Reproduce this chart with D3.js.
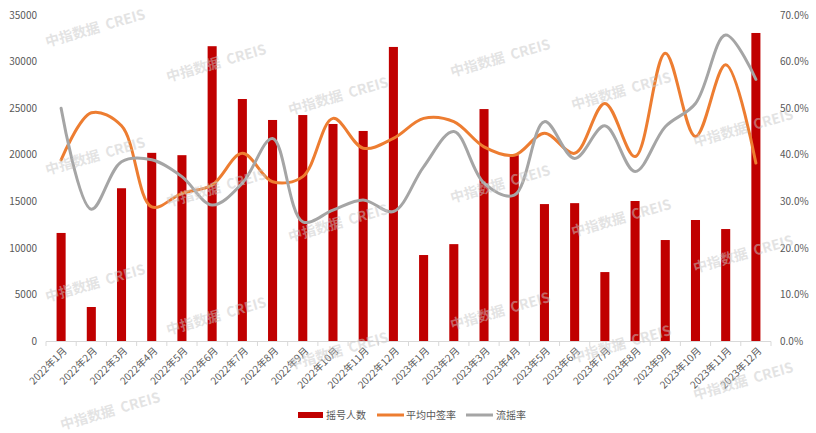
<!DOCTYPE html>
<html><head><meta charset="utf-8">
<script src="https://cdn.jsdelivr.net/npm/d3@7"></script>
<style>body{margin:0;background:#fff;} svg{display:block;}</style>
</head><body>
<svg id="chart" width="816" height="433"></svg>
<script>
const categories = ["2022年1月","2022年2月","2022年3月","2022年4月","2022年5月","2022年6月","2022年7月","2022年8月","2022年9月","2022年10月","2022年11月","2022年12月",
"2023年1月","2023年2月","2023年3月","2023年4月","2023年5月","2023年6月","2023年7月","2023年8月","2023年9月","2023年10月","2023年11月","2023年12月"];
const applicants = [11600,3650,16400,20200,19950,31650,25980,23730,24260,23300,22550,31570,
9230,10400,24900,19950,14700,14800,7400,15030,10840,12990,12020,33070];
const winRate = [0.389,0.490,0.462,0.288,0.317,0.335,0.403,0.342,0.353,0.478,0.414,0.435,
0.478,0.471,0.417,0.399,0.446,0.403,0.510,0.396,0.618,0.439,0.593,0.382];
const flowRate = [0.500,0.283,0.385,0.389,0.353,0.292,0.339,0.435,0.256,0.281,0.303,0.278,
0.374,0.450,0.339,0.313,0.471,0.392,0.462,0.364,0.460,0.510,0.657,0.562];
const leftTicks = [0,5000,10000,15000,20000,25000,30000,35000];
const rightTicks = [0,0.1,0.2,0.3,0.4,0.5,0.6,0.7];
const legendLabels = ["摇号人数","平均中签率","流摇率"];
const watermark = "中指数据  CREIS";

const svg = d3.select("#chart");
const colors = {bar:"#C00000", win:"#ED7D31", flow:"#A5A5A5"};
const x = d3.scaleBand().domain(categories).range([46,771]).paddingInner(0.7).paddingOuter(0.35);
const step = x.step();
const yL = d3.scaleLinear().domain([0,35000]).range([341,15]);
const yR = d3.scaleLinear().domain([0,0.7]).range([341,15]);
const font = "'Noto Sans CJK SC','Open Sans',sans-serif";

// left axis labels
const leftAxis = d3.axisLeft(yL).tickValues(leftTicks).tickSize(0).tickPadding(0).tickFormat(d3.format("d"));
const gl = svg.append("g").attr("transform","translate(37,0)").call(leftAxis);
gl.select(".domain").remove();
gl.selectAll("text").attr("font-family",font).attr("font-size",10).attr("fill","#595959");

const rightAxis = d3.axisRight(yR).tickValues(rightTicks).tickSize(0).tickPadding(0).tickFormat(d3.format(".1%"));
const gr = svg.append("g").attr("transform","translate(780,0)").call(rightAxis);
gr.select(".domain").remove();
gr.selectAll("text").attr("font-family",font).attr("font-size",10).attr("fill","#595959");

// x axis
const xr = x.range();
svg.append("line").attr("x1",xr[0]).attr("x2",xr[1]).attr("y1",341.5).attr("y2",341.5).attr("stroke","#d9d9d9");
const bounds = d3.range(categories.length+1).map(i => xr[0] + i*step);
svg.append("g").selectAll("line").data(bounds).join("line")
  .attr("x1",d=>d).attr("x2",d=>d).attr("y1",341.5).attr("y2",346).attr("stroke","#d9d9d9");
svg.append("g").selectAll("text").data(categories).join("text")
  .attr("transform",d=>`translate(${x(d)+x.bandwidth()/2+4},${349}) rotate(-45)`)
  .attr("text-anchor","end").attr("dy","0.35em")
  .attr("font-family",font).attr("font-size",10).attr("fill","#595959").text(d=>d);

// bars
svg.append("g").selectAll("rect").data(applicants).join("rect")
  .attr("x",(d,i)=>x(categories[i])).attr("width",x.bandwidth())
  .attr("y",d=>yL(d)).attr("height",d=>yL(0)-yL(d)).attr("fill",colors.bar);

// lines
const cx = i => x(categories[i]) + x.bandwidth()/2;
const line = d3.line().x((d,i)=>cx(i)).y(d=>yR(d)).curve(d3.curveCatmullRom.alpha(0.5));
svg.append("path").datum(winRate).attr("d",line).attr("fill","none").attr("stroke",colors.win).attr("stroke-width",3).attr("stroke-linecap","round");
svg.append("path").datum(flowRate).attr("d",line).attr("fill","none").attr("stroke",colors.flow).attr("stroke-width",3).attr("stroke-linecap","round");

// legend
const lg = svg.append("g").attr("font-family",font).attr("font-size",10).attr("fill","#595959");
lg.append("rect").attr("x",298).attr("y",412).attr("width",25).attr("height",6).attr("fill",colors.bar);
lg.append("text").attr("x",326).attr("y",415).attr("dy","0.35em").text(legendLabels[0]);
lg.append("line").attr("x1",377).attr("x2",404).attr("y1",415).attr("y2",415).attr("stroke",colors.win).attr("stroke-width",3);
lg.append("text").attr("x",406).attr("y",415).attr("dy","0.35em").text(legendLabels[1]);
lg.append("line").attr("x1",466).attr("x2",493).attr("y1",415).attr("y2",415).attr("stroke",colors.flow).attr("stroke-width",3);
lg.append("text").attr("x",496).attr("y",415).attr("dy","0.35em").text(legendLabels[2]);

// watermarks
const wmPos = [[47,47],[47,175],[47,302],[62,430],[168,82],[168,207],[168,335],[290,115],[290,242],[290,370],
[452,77],[452,203],[452,330],[573,110],[573,237],[573,363],[695,147],[695,273],[695,400]];
svg.append("g").selectAll("text").data(wmPos).join("text")
  .attr("transform",d=>`translate(${d[0]},${d[1]}) rotate(-16)`)
  .attr("font-family",font).attr("font-size",14).attr("font-weight","bold")
  .attr("fill","#c8c8c8").attr("fill-opacity",0.5).attr("xml:space","preserve").text(watermark);
</script>
</body></html>
